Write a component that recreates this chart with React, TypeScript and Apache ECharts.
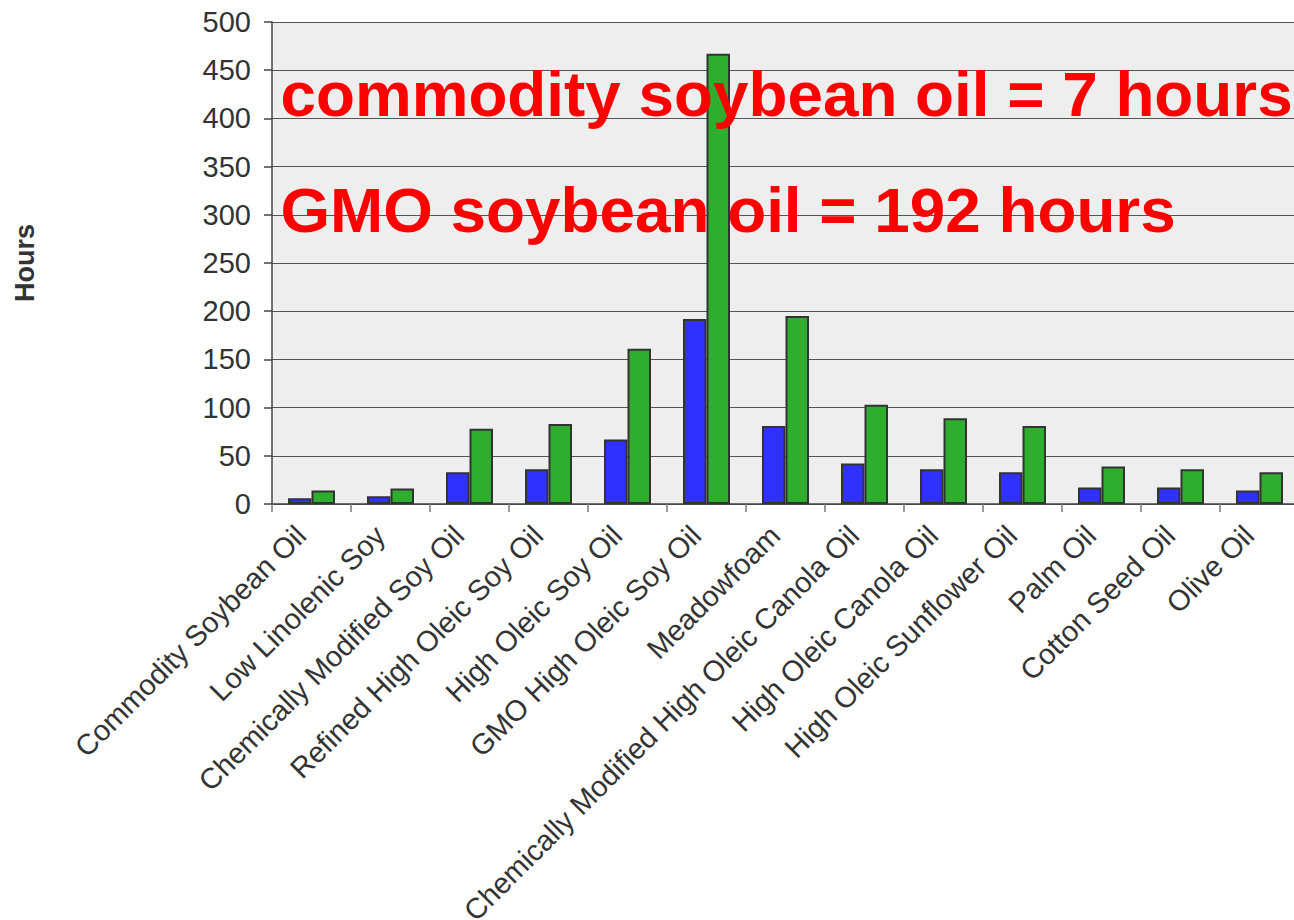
import React, { useEffect, useRef } from "react";
import * as echarts from "echarts";

const categories = [
  "Commodity Soybean Oil",
  "Low Linolenic Soy",
  "Chemically Modified Soy Oil",
  "Refined High Oleic Soy Oil",
  "High Oleic Soy Oil",
  "GMO High Oleic Soy Oil",
  "Meadowfoam",
  "Chemically Modified High Oleic Canola Oil",
  "High Oleic Canola Oil",
  "High Oleic Sunflower Oil",
  "Palm Oil",
  "Cotton Seed Oil",
  "Olive Oil",
];

const blueValues = [6, 8, 33, 36, 67, 192, 81, 42, 36, 33, 17, 17, 14];
const greenValues = [14, 16, 78, 83, 161, 467, 195, 103, 89, 81, 39, 36, 33];

const annotationLines = [
  "commodity soybean oil = 7 hours",
  "GMO soybean oil = 192 hours",
];

const FONT = "'Liberation Sans', Arial, Helvetica, sans-serif";

export default function App() {
  const ref = useRef<HTMLDivElement>(null);

  useEffect(() => {
    if (!ref.current) return;
    const chart = echarts.init(ref.current, undefined, { renderer: "svg" });
    chart.setOption({
      animation: false,
      backgroundColor: "#ffffff",
      grid: {
        left: 272,
        top: 22,
        width: 1027,
        bottom: 416,
        show: true,
        backgroundColor: "#EEEEEE",
        borderWidth: 0,
        containLabel: false,
        outerBoundsMode: "none",
      },
      xAxis: {
        type: "category",
        data: categories,
        axisLine: { show: true, lineStyle: { color: "#444", width: 1.5 } },
        axisTick: { show: true, length: 8, lineStyle: { color: "#777", width: 1.5 } },
        axisLabel: {
          rotate: 45,
          interval: 0,
          margin: 16,
          padding: [0, 15, 0, 0],
          fontSize: 29,
          fontFamily: FONT,
          color: "#333",
        },
        splitLine: { show: false },
      },
      yAxis: {
        type: "value",
        min: 0,
        max: 500,
        interval: 50,
        name: "Hours",
        nameLocation: "middle",
        nameRotate: 90,
        nameGap: 234,
        nameTextStyle: {
          fontSize: 27,
          fontWeight: "bold",
          fontFamily: FONT,
          color: "#333",
        },
        axisLine: { show: true, lineStyle: { color: "#444", width: 1.5 } },
        axisTick: { show: true, inside: false, length: 8, lineStyle: { color: "#444", width: 1.5 } },
        axisLabel: {
          margin: 21,
          fontSize: 29,
          fontFamily: FONT,
          color: "#333",
        },
        splitLine: { show: true, lineStyle: { color: "#555", width: 1 } },
      },
      series: [
        {
          type: "bar",
          data: blueValues,
          barWidth: 23.5,
          barGap: "0%",
          itemStyle: { color: "#3030FF", borderColor: "#333", borderWidth: 2 },
        },
        {
          type: "bar",
          data: greenValues,
          barWidth: 23.5,
          barGap: "0%",
          itemStyle: { color: "#2EAD2E", borderColor: "#333", borderWidth: 2 },
        },
      ],
      graphic: [
        {
          type: "text",
          x: 280.5,
          y: 94,
          z: 100,
          style: {
            text: annotationLines[0],
            fill: "#FF0000",
            font: `bold 63.8px ${FONT}`,
            verticalAlign: "middle",
          },
        },
        {
          type: "text",
          x: 280.5,
          y: 210,
          z: 100,
          style: {
            text: annotationLines[1],
            fill: "#FF0000",
            font: `bold 63.8px ${FONT}`,
            verticalAlign: "middle",
          },
        },
      ],
    });
    return () => chart.dispose();
  }, []);

  return (
    <div
      ref={ref}
      style={{ position: "fixed", left: 0, top: 0, width: 1294, height: 920 }}
    />
  );
}
